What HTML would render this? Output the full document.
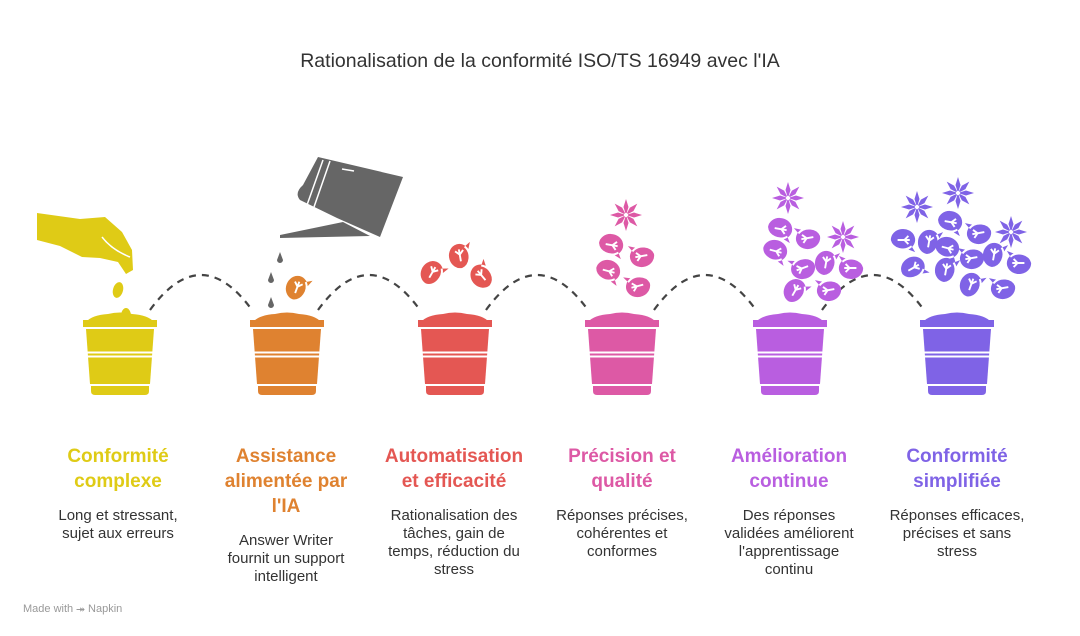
<!DOCTYPE html>
<html><head><meta charset="utf-8"><style>
body{margin:0;background:#fff;width:1080px;height:636px;overflow:hidden;font-family:"Liberation Sans",sans-serif;}
svg{position:absolute;left:0;top:0}
.t{font-weight:bold;font-size:19px;text-anchor:middle}
.d{font-size:15px;fill:#333;text-anchor:middle}
</style></head><body>
<svg width="1080" height="636" viewBox="0 0 1080 636">
<defs>
<g id="pot">
<path d="M-34,322 Q-28,315 -12,314 Q0,311 12,314 Q28,315 34,322Z"/>
<rect x="-37" y="320" width="74" height="7"/>
<polygon points="-34,329 34,329 30,384 -30,384"/>
<rect x="-40" y="351.5" width="80" height="2" fill="#fff"/>
<rect x="-40" y="355.5" width="80" height="2" fill="#fff"/>
<path d="M-29,386 H29 V391 Q29,395 25,395 H-25 Q-29,395 -29,391Z"/>
</g>
<g id="leaf"><g transform="scale(1.35)"><path d="M-9,0 A9,8 0 1,1 4,7 L9,9 L6,4 A9,8 0 0,1 -9,0Z"/><path d="M-4,0 H5 M1,0 L4,-3 M1,0 L4,3" stroke="#fff" stroke-width="1.4" fill="none"/></g></g>
<g id="fl"><g id="pt"><path d="M0,0 L-2.5,-8 L0,-16 L2.5,-8Z"/></g><use href="#pt" transform="rotate(45)"/><use href="#pt" transform="rotate(90)"/><use href="#pt" transform="rotate(135)"/><use href="#pt" transform="rotate(180)"/><use href="#pt" transform="rotate(225)"/><use href="#pt" transform="rotate(270)"/><use href="#pt" transform="rotate(315)"/><circle r="2" fill="#fff"/></g>
</defs>
<text x="540" y="67" font-size="19.5" fill="#333" text-anchor="middle">Rationalisation de la conformité ISO/TS 16949 avec l'IA</text>
<g fill="none" stroke="#444" stroke-width="2.2" stroke-dasharray="7,6">
<path d="M150,310 Q201,240 252,310"/><path d="M318,310 Q369,240 420,310"/><path d="M486,310 Q537,240 588,310"/><path d="M654,310 Q705,240 756,310"/><path d="M822,310 Q873,240 924,310"/>
</g>
<use href="#pot" x="120" fill="#dfcb16"/>
<use href="#pot" x="287" fill="#df8230"/>
<use href="#pot" x="455" fill="#e45753"/>
<use href="#pot" x="622" fill="#dd59a5"/>
<use href="#pot" x="790" fill="#b95ee0"/>
<use href="#pot" x="957" fill="#7f63e6"/>
<!-- hand -->
<g fill="#dfcb16">
<polygon points="37,213 80,219 105,217 122,232 132,250 133,270 126,274 118,262 100,258 82,257 60,246 37,240"/>
<ellipse cx="118" cy="290" rx="5" ry="8" transform="rotate(15 118 290)"/>
<ellipse cx="126" cy="316" rx="5" ry="8"/>
</g>
<path d="M102,237 Q112,250 130,257" stroke="#fff" stroke-width="1.5" fill="none"/>
<!-- watering can -->
<g fill="#666">
<path d="M318,157 L403,177 L380,237 L337,218 L300,200 Q294,193 303,185Z"/>
<polygon points="343,222 280,235 280,238 370,236"/>
<path d="M280,252 l-3,8 a3,3 0 0,0 6,0Z M271,272 l-3,8 a3,3 0 0,0 6,0Z M271,297 l-3,8 a3,3 0 0,0 6,0Z"/>
</g>
<path d="M323,160 L307,205 M330,161 L314,207" stroke="#fff" stroke-width="1.5"/>
<path d="M342,169 L354,171" stroke="#fff" stroke-width="1.5"/>
<!-- leaves -->
<g fill="#df8230"><use href="#leaf" transform="translate(297,288) rotate(-70)"/></g>
<g fill="#e45753"><use href="#leaf" transform="translate(432,273) rotate(-60)"/><use href="#leaf" transform="translate(460,256) rotate(-100)"/><use href="#leaf" transform="translate(482,276) rotate(-130)"/></g>
<g fill="#dd59a5"><use href="#fl" x="626" y="215"/><use href="#leaf" transform="translate(611,245) rotate(10)"/><use href="#leaf" transform="translate(642,256) rotate(170)"/><use href="#leaf" transform="translate(608,271) rotate(15)"/><use href="#leaf" transform="translate(638,286) rotate(165)"/></g>
<g fill="#b95ee0"><use href="#fl" x="788" y="198"/><use href="#fl" x="843" y="237"/>
<use href="#leaf" transform="translate(780,229) rotate(10)"/><use href="#leaf" transform="translate(808,238) rotate(170)"/><use href="#leaf" transform="translate(775,251) rotate(15)"/><use href="#leaf" transform="translate(803,268) rotate(160)"/><use href="#leaf" transform="translate(826,263) rotate(-80)"/><use href="#leaf" transform="translate(851,268) rotate(180)"/><use href="#leaf" transform="translate(795,291) rotate(-60)"/><use href="#leaf" transform="translate(829,290) rotate(170)"/></g>
<g fill="#7f63e6"><use href="#fl" x="917" y="207"/><use href="#fl" x="958" y="193"/><use href="#fl" x="1011" y="232"/>
<use href="#leaf" transform="translate(903,240) rotate(0)"/><use href="#leaf" transform="translate(929,242) rotate(-80)"/><use href="#leaf" transform="translate(950,222) rotate(10)"/><use href="#leaf" transform="translate(947,248) rotate(15)"/><use href="#leaf" transform="translate(979,233) rotate(170)"/><use href="#leaf" transform="translate(994,255) rotate(-80)"/><use href="#leaf" transform="translate(1019,263) rotate(180)"/><use href="#leaf" transform="translate(913,268) rotate(-30)"/><use href="#leaf" transform="translate(946,270) rotate(-80)"/><use href="#leaf" transform="translate(972,258) rotate(170)"/><use href="#leaf" transform="translate(971,285) rotate(-70)"/><use href="#leaf" transform="translate(1003,288) rotate(170)"/></g>
<!-- labels -->
<text class="t" fill="#dfcb16"><tspan x="118" y="462">Conformité</tspan><tspan x="118" y="487">complexe</tspan></text>
<text class="d"><tspan x="118" y="520">Long et stressant,</tspan><tspan x="118" y="538">sujet aux erreurs</tspan></text>
<text class="t" fill="#df8230"><tspan x="286" y="462">Assistance</tspan><tspan x="286" y="487">alimentée par</tspan><tspan x="286" y="512">l'IA</tspan></text>
<text class="d"><tspan x="286" y="545">Answer Writer</tspan><tspan x="286" y="563">fournit un support</tspan><tspan x="286" y="581">intelligent</tspan></text>
<text class="t" fill="#e45753"><tspan x="454" y="462">Automatisation</tspan><tspan x="454" y="487">et efficacité</tspan></text>
<text class="d"><tspan x="454" y="520">Rationalisation des</tspan><tspan x="454" y="538">tâches, gain de</tspan><tspan x="454" y="556">temps, réduction du</tspan><tspan x="454" y="574">stress</tspan></text>
<text class="t" fill="#dd59a5"><tspan x="622" y="462">Précision et</tspan><tspan x="622" y="487">qualité</tspan></text>
<text class="d"><tspan x="622" y="520">Réponses précises,</tspan><tspan x="622" y="538">cohérentes et</tspan><tspan x="622" y="556">conformes</tspan></text>
<text class="t" fill="#b95ee0"><tspan x="789" y="462">Amélioration</tspan><tspan x="789" y="487">continue</tspan></text>
<text class="d"><tspan x="789" y="520">Des réponses</tspan><tspan x="789" y="538">validées améliorent</tspan><tspan x="789" y="556">l'apprentissage</tspan><tspan x="789" y="574">continu</tspan></text>
<text class="t" fill="#7f63e6"><tspan x="957" y="462">Conformité</tspan><tspan x="957" y="487">simplifiée</tspan></text>
<text class="d"><tspan x="957" y="520">Réponses efficaces,</tspan><tspan x="957" y="538">précises et sans</tspan><tspan x="957" y="556">stress</tspan></text>
<text x="23" y="612" font-size="11" fill="#999">Made with ⯮ Napkin</text>
</svg>
</body></html>
